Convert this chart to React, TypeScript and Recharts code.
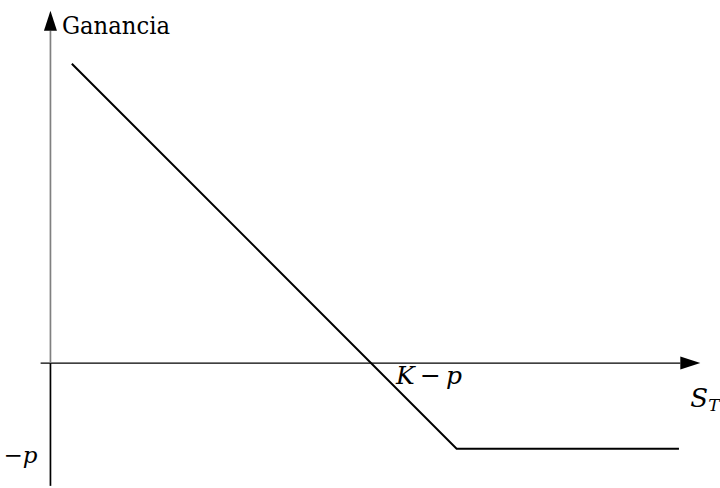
// Opcion put larga: ganancia al vencimiento = max(K - S_T, 0) - p
// Ejes dibujados a mano con ReferenceLine (estilo TikZ), sin ticks ni grid

import { LineChart, Line, XAxis, YAxis, ReferenceLine, ReferenceDot } from 'recharts'

// Datos (unidades arbitrarias)
const precios = [0.5, 9.5, 14.7]
const ganancia = [7, -2, -2]
const K = 9.5
const p = 2

// Rango visible y extremos de los ejes (unidades de datos)
const dominioX: [number, number] = [-1.18, 15.66]
const dominioY: [number, number] = [-2.92, 8.49]
const ejeX = [-0.23, 15.2]
const ejeY = [-2.87, 8.24]

const etiquetaEjeY = 'Ganancia'

const FUENTE = 'DejaVu Serif'

const datos = precios.map((s, i) => ({ s, g: ganancia[i] }))

// Linea con punta de flecha rellena al final
function Flecha(props: any) {
  const { x1, y1, x2, y2, lineColor, grosor } = props
  const dx = x2 - x1
  const dy = y2 - y1
  const len = Math.hypot(dx, dy) || 1
  const ux = dx / len
  const uy = dy / len
  const L = 20
  const W = 6.5
  const bx = x2 - ux * L
  const by = y2 - uy * L
  const pts = `${x2},${y2} ${bx - uy * W},${by + ux * W} ${bx + uy * W},${by - ux * W}`
  return (
    <g>
      <line x1={x1} y1={y1} x2={bx} y2={by} stroke={lineColor} strokeWidth={grosor} />
      <polygon points={pts} fill="#000" />
    </g>
  )
}

function Segmento(props: any) {
  const { x1, y1, x2, y2 } = props
  return <line x1={x1} y1={y1} x2={x2} y2={y2} stroke="#000" strokeWidth={1.7} />
}

export default function App() {
  return (
    <div style={{ position: 'absolute', left: 0, top: 0, width: 720, height: 488, background: '#fff' }}>
      <LineChart
        width={720}
        height={488}
        data={datos}
        margin={{ top: 0, right: 0, bottom: 0, left: 0 }}
      >
        <XAxis type="number" dataKey="s" domain={dominioX} hide allowDataOverflow />
        <YAxis type="number" domain={dominioY} hide allowDataOverflow />

        {/* eje horizontal S_T */}
        <ReferenceLine
          segment={[{ x: ejeX[0], y: 0 }, { x: ejeX[1], y: 0 }]}
          ifOverflow="visible"
          shape={(pr: any) => <Flecha {...pr} lineColor="#000" grosor={1.3} />}
        />
        {/* eje vertical: tramo negativo negro, tramo positivo gris con flecha */}
        <ReferenceLine
          segment={[{ x: 0, y: ejeY[0] }, { x: 0, y: 0 }]}
          ifOverflow="visible"
          shape={(pr: any) => <Segmento {...pr} />}
        />
        <ReferenceLine
          segment={[{ x: 0, y: 0 }, { x: 0, y: ejeY[1] }]}
          ifOverflow="visible"
          shape={(pr: any) => <Flecha {...pr} lineColor="#808080" grosor={1.7} />}
        />

        <Line
          type="linear"
          dataKey="g"
          stroke="#000"
          strokeWidth={2}
          strokeLinecap="butt"
          dot={false}
          activeDot={false}
          isAnimationActive={false}
        />

        {/* etiquetas */}
        <ReferenceDot
          x={0}
          y={ejeY[1]}
          r={0}
          ifOverflow="visible"
          shape={(pr: any) => (
            <text x={pr.cx + 11.5} y={pr.cy + 23} fontFamily={FUENTE} fontSize={25} fill="#000" textLength={108} lengthAdjust="spacingAndGlyphs">
              {etiquetaEjeY}
            </text>
          )}
        />
        <ReferenceDot
          x={K - p}
          y={0}
          r={0}
          ifOverflow="visible"
          shape={(pr: any) => (
            <text x={pr.cx + 25} y={pr.cy + 21} fontFamily={FUENTE} fontSize={25} fill="#000" textLength={66} lengthAdjust="spacing">
              <tspan fontStyle="italic">K</tspan>
              <tspan> − </tspan>
              <tspan fontStyle="italic">p</tspan>
            </text>
          )}
        />
        <ReferenceDot
          x={ejeX[1]}
          y={0}
          r={0}
          ifOverflow="visible"
          shape={(pr: any) => (
            <text x={pr.cx - 10} y={pr.cy + 44} fontFamily={FUENTE} fontSize={26} fill="#000">
              <tspan fontStyle="italic">S</tspan>
              <tspan fontStyle="italic" fontSize={17} dy={4}>T</tspan>
            </text>
          )}
        />
        <ReferenceDot
          x={0}
          y={-p}
          r={0}
          ifOverflow="visible"
          shape={(pr: any) => (
            <text x={pr.cx - 13} y={pr.cy + 14} fontFamily={FUENTE} fontSize={23} fill="#000" textAnchor="end">
              <tspan>−</tspan>
              <tspan fontStyle="italic">p</tspan>
            </text>
          )}
        />
      </LineChart>
    </div>
  )
}
